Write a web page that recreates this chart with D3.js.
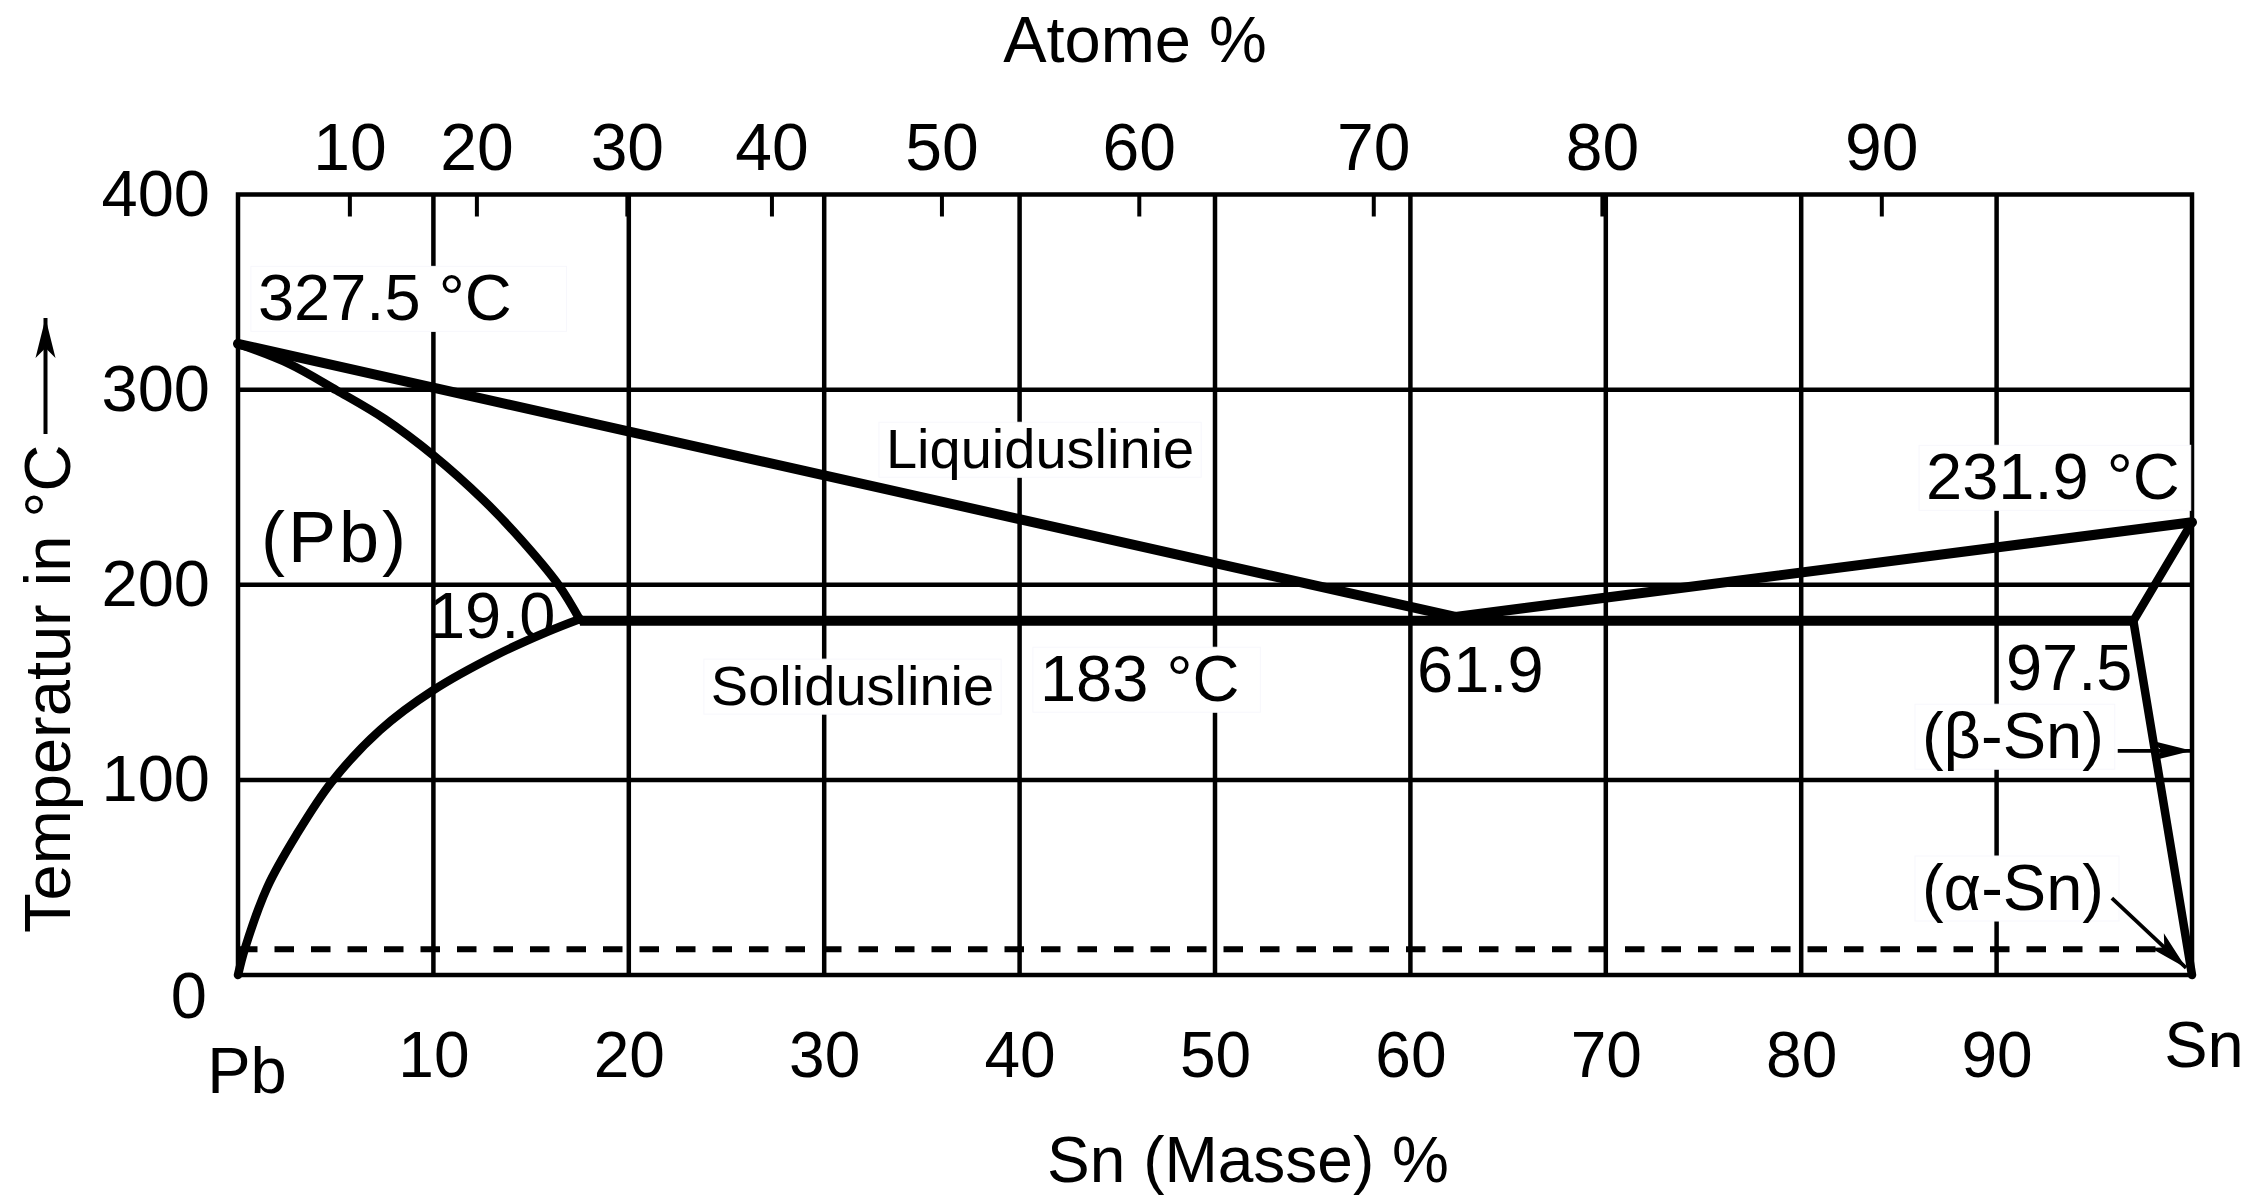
<!DOCTYPE html>
<html><head><meta charset="utf-8">
<script src="https://cdn.jsdelivr.net/npm/d3@7"></script>
<style>
html,body{margin:0;padding:0;background:#fff;}
svg{display:block;}
text{font-family:"Liberation Sans", Arial, Helvetica, sans-serif; fill:#000;}
</style></head><body>
<svg id="chart" width="2267" height="1198"></svg>
<script>
// ---------- data ----------
const massTicks = [10, 20, 30, 40, 50, 60, 70, 80, 90];
const gridTemps = [100, 200, 300];
const tempTicks = [0, 100, 200, 300, 400];
const atomTickLabels = [10, 20, 30, 40, 50, 60, 70, 80, 90];
const atomTickMass = [5.7, 12.2, 19.9, 27.3, 36.0, 46.1, 58.1, 69.8, 84.1];
const liquidus = [[0, 323.5], [62.3, 183.5], [100, 232]];
const eutectic = [[17.5, 181.5], [97, 181.5]];
const solidusPb = [[0, 323.5], [2.6, 313.3], [5.05, 299.6], [7.5, 285], [10, 266.3], [12.55, 243.5], [14.5, 223], [16.4, 200], [17.5, 182]];
const solvusPb = [[0, 0], [0.36, 13.7], [1.5, 45], [3.0, 72], [4.8, 99], [7.27, 125.5], [10, 146], [13.2, 163.9], [15.8, 175.8], [17.5, 182.5]];
const solidusSn = [[97, 181.5], [100, 232]];
const solvusSn = [[97, 181.5], [100, 0]];
const transition = [[0, 13.2], [99, 13.2]];
const betaArrow = [[96.2, 114.9], [100, 114.9]];
const alphaArrow = [[95.9, 39.4], [99.7, 3.6]];
const annotations = [
  {t: "327.5 °C", x: 1.02, y: 335.5, fs: 65, box: true, extraR: 48},
  {t: "Liquiduslinie", x: 33.16, y: 259.7, fs: 56, box: true, extraR: 0},
  {t: "Soliduslinie", x: 24.2, y: 138.3, fs: 56, box: true, extraR: 0},
  {t: "183 °C", x: 41.04, y: 140.3, fs: 65, box: true, extraR: 14},
  {t: "61.9", x: 60.34, y: 144.9, fs: 65, box: false},
  {t: "19.0", x: 9.77, y: 172.6, fs: 65, box: false},
  {t: "(Pb)", x: 1.18, y: 211.5, fs: 72, box: false, ls: 3},
  {t: "231.9 °C", x: 86.39, y: 243.8, fs: 65, box: true, extraR: 4},
  {t: "97.5", x: 90.48, y: 146.0, fs: 65, box: false},
  {t: "(β-Sn)", x: 86.18, y: 111.1, fs: 65, box: true, extraR: 4},
  {t: "(α-Sn)", x: 86.18, y: 33.3, fs: 65, box: true, extraR: 8}
];

// ---------- scales ----------
const svg = d3.select("#chart");
const x = d3.scaleLinear().domain([0, 100]).range([238, 2192]);
const y = d3.scaleLinear().domain([0, 400]).range([975, 194.5]);

// ---------- grid ----------
const grid = svg.append("g").attr("stroke", "#000").attr("stroke-width", 4.5);
grid.selectAll("line.v").data(massTicks).join("line").attr("class", "v")
  .attr("x1", d => x(d)).attr("x2", d => x(d)).attr("y1", y(400)).attr("y2", y(0));
grid.selectAll("line.h").data(gridTemps).join("line").attr("class", "h")
  .attr("x1", x(0)).attr("x2", x(100)).attr("y1", d => y(d)).attr("y2", d => y(d));

// dashed transition line
const line = d3.line().x(d => x(d[0])).y(d => y(d[1]));
svg.append("path").datum(transition).attr("d", line).attr("fill", "none")
  .attr("stroke", "#000").attr("stroke-width", 6).attr("stroke-dasharray", "19.5,17");

// ---------- axes ----------
const topAxis = svg.append("g").attr("transform", `translate(0,${y(400)})`)
  .call(d3.axisTop(x).tickValues(atomTickMass).tickFormat((d, i) => atomTickLabels[i])
    .tickSizeInner(-22).tickSizeOuter(0).tickPadding(25));
topAxis.select(".domain").remove();
topAxis.selectAll(".tick line").attr("stroke", "#000").attr("stroke-width", 4);
topAxis.selectAll("text").attr("font-size", 66).attr("font-family", null).attr("fill", "#000");

const bottomAxis = svg.append("g").attr("transform", `translate(0,${y(0)})`)
  .call(d3.axisBottom(x).tickValues(massTicks).tickSize(0).tickPadding(57));
bottomAxis.select(".domain").remove();
bottomAxis.selectAll("text").attr("font-size", 64).attr("font-family", null).attr("fill", "#000");

const leftAxis = svg.append("g").attr("transform", `translate(${x(0)},0)`)
  .call(d3.axisLeft(y).tickValues(tempTicks).tickSize(0).tickPadding(28));
leftAxis.select(".domain").remove();
leftAxis.selectAll("text").attr("font-size", 65).attr("font-family", null).attr("fill", "#000")
  .filter(d => d === 0).attr("y", 22).attr("x", -31);

// border
svg.append("rect").attr("x", x(0)).attr("y", y(400)).attr("width", x(100) - x(0)).attr("height", y(0) - y(400))
  .attr("fill", "none").attr("stroke", "#000").attr("stroke-width", 4.5);

// ---------- annotations ----------
const ann = svg.append("g");
annotations.forEach(a => {
  const g = ann.append("g");
  const t = g.append("text").attr("x", x(a.x)).attr("y", y(a.y)).attr("font-size", a.fs)
    .attr("letter-spacing", a.ls || 0).text(a.t);
  if (a.box) {
    const b = t.node().getBBox();
    g.insert("rect", "text").attr("x", b.x - 7).attr("y", b.y + 5)
      .attr("width", b.width + 14 + a.extraR).attr("height", b.height - 8)
      .attr("fill", "#fff").attr("stroke", "#f7f7fc").attr("stroke-width", 1);
  }
});

// ---------- phase boundaries ----------
const curve = d3.line().x(d => x(d[0])).y(d => y(d[1])).curve(d3.curveCatmullRom.alpha(0.5));
const lines = svg.append("g").attr("fill", "none").attr("stroke", "#000")
  .attr("stroke-linejoin", "round").attr("stroke-linecap", "round");
lines.append("path").datum(liquidus).attr("d", line).attr("stroke-width", 10);
lines.append("path").datum(eutectic).attr("d", line).attr("stroke-width", 10).attr("stroke-linecap", "butt");
lines.append("path").datum(solidusPb).attr("d", curve).attr("stroke-width", 8.5);
lines.append("path").datum(solvusPb).attr("d", curve).attr("stroke-width", 8.5);
lines.append("path").datum(solidusSn).attr("d", line).attr("stroke-width", 8.5);
lines.append("path").datum(solvusSn).attr("d", line).attr("stroke-width", 8.5);

// arrows
const defs = svg.append("defs");
defs.append("marker").attr("id", "ah").attr("viewBox", "-42 -12 44 24").attr("refX", 0).attr("refY", 0)
  .attr("markerWidth", 44).attr("markerHeight", 24).attr("markerUnits", "userSpaceOnUse").attr("orient", "auto")
  .append("path").attr("d", "M0,0 L-40,-10 L-30,0 L-40,10 Z").attr("fill", "#000");
[betaArrow, alphaArrow].forEach(a => {
  svg.append("path").datum(a).attr("d", line).attr("fill", "none").attr("stroke", "#000")
    .attr("stroke-width", 3.8).attr("marker-end", "url(#ah)");
});

// ---------- titles ----------
svg.append("text").attr("x", 1135).attr("y", 62).attr("text-anchor", "middle").attr("font-size", 65).text("Atome %");
svg.append("text").attr("x", 1248).attr("y", 1182).attr("text-anchor", "middle").attr("font-size", 64).text("Sn (Masse) %");
svg.append("text").attr("x", x(0) + 9).attr("y", 1093).attr("text-anchor", "middle").attr("font-size", 65).text("Pb");
svg.append("text").attr("x", x(100) + 12).attr("y", 1067).attr("text-anchor", "middle").attr("font-size", 65).text("Sn");
svg.append("text").attr("transform", "translate(70,933) rotate(-90)").attr("font-size", 65).text("Temperatur in °C");
svg.append("line").attr("x1", 45.5).attr("x2", 45.5).attr("y1", 434).attr("y2", 318)
  .attr("stroke", "#000").attr("stroke-width", 4).attr("marker-end", "url(#ah)");
</script>
</body></html>
